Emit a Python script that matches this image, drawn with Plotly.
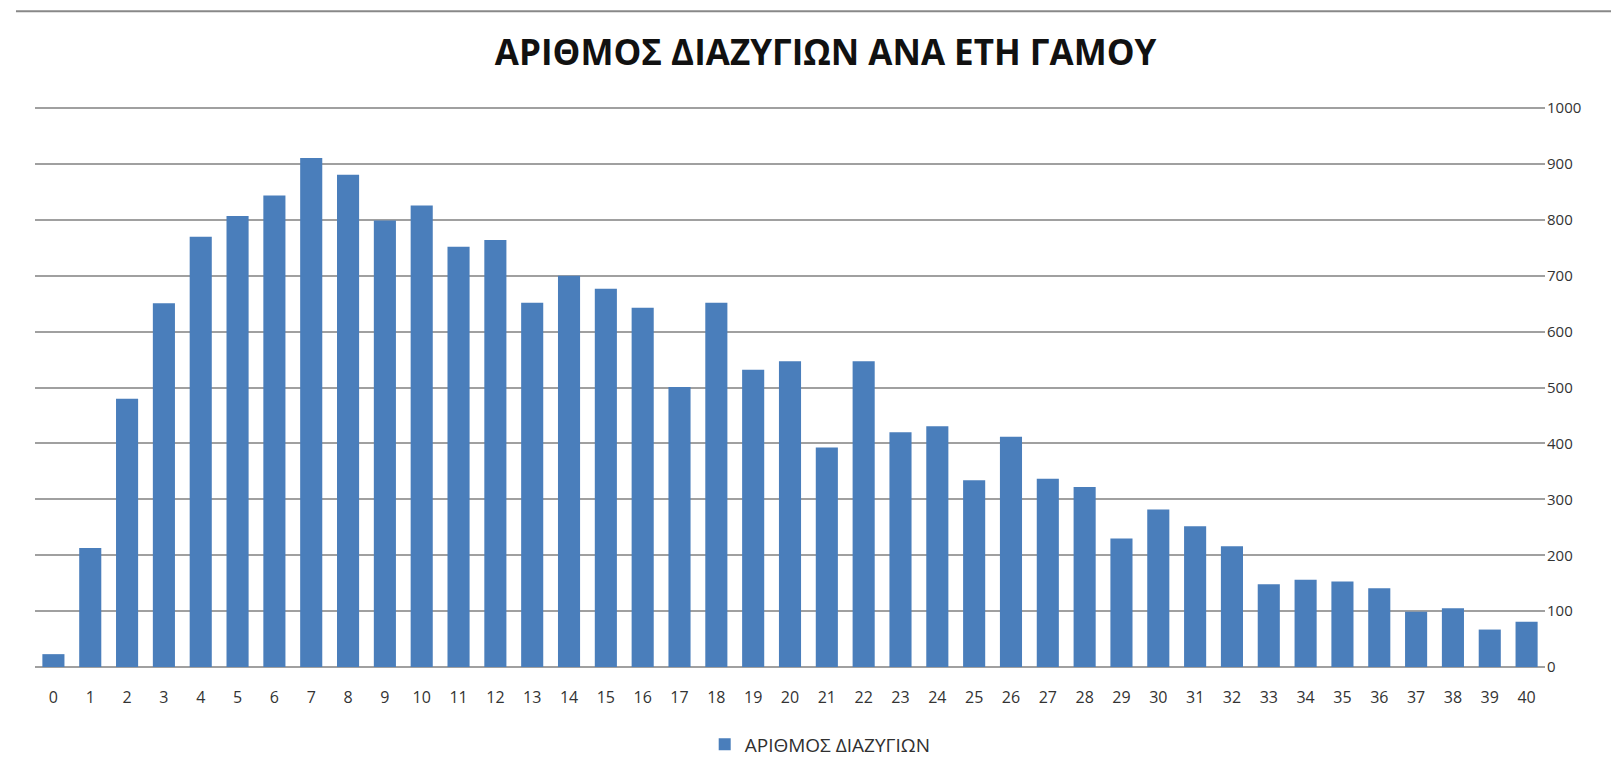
import plotly.graph_objects as go

years = [str(i) for i in range(41)]
divorces = [23, 213, 480, 651, 770, 807, 844, 911, 881, 799,
            826, 752, 764, 652, 700, 677, 643, 501, 652, 532,
            547, 393, 547, 420, 431, 334, 412, 337, 322, 230,
            282, 252, 216, 148, 156, 153, 141, 99, 105, 67, 81]
y_ticks = list(range(0, 1001, 100))

BAR_COLOR = '#4a7ebb'
GRID = '#a0a0a0'
FONT = 'Open Sans, Noto Sans, sans-serif'

fig = go.Figure()
fig.add_trace(go.Bar(x=years, y=divorces, name='ΑΡΙΘΜΟΣ ΔΙΑΖΥΓΙΩΝ',
                     marker=dict(color=BAR_COLOR, line=dict(width=0))))

fig.update_layout(
    width=1619, height=775,
    plot_bgcolor='white', paper_bgcolor='white',
    margin=dict(l=27, r=82, t=98, b=116),
    bargap=0.4,
    font=dict(family=FONT, size=16, color='#404040'),
    title=dict(text='<b>ΑΡΙΘΜΟΣ ΔΙΑΖΥΓΙΩΝ ΑΝΑ ΕΤΗ ΓΑΜΟΥ</b>', x=0.505, xanchor='center',
               y=0.942, yanchor='middle',
               font=dict(family='Open Sans, sans-serif', size=35, color='#111111')),
    showlegend=True,
    legend=dict(orientation='h', x=0.52, xanchor='center', y=-0.138, yanchor='middle',
                font=dict(size=19, color='#303030')),
    shapes=[dict(type='line', xref='paper', yref='paper', x0=-0.0126, x1=1.1,
                 y0=1.169, y1=1.169, line=dict(color='#888888', width=2))],
)
fig.update_xaxes(type='category', showgrid=False, showline=False, ticks='',
                 ticklabelstandoff=19, tickfont=dict(size=16, color='#333333'))
fig.update_yaxes(side='right', range=[0, 1004], tickvals=y_ticks, showgrid=True,
                 gridcolor=GRID, gridwidth=2, zeroline=True, zerolinecolor=GRID,
                 zerolinewidth=2, showline=False, ticks='', ticklabelstandoff=1,
                 tickfont=dict(size=15, color='#333333'))

fig.write_html("out.html")
